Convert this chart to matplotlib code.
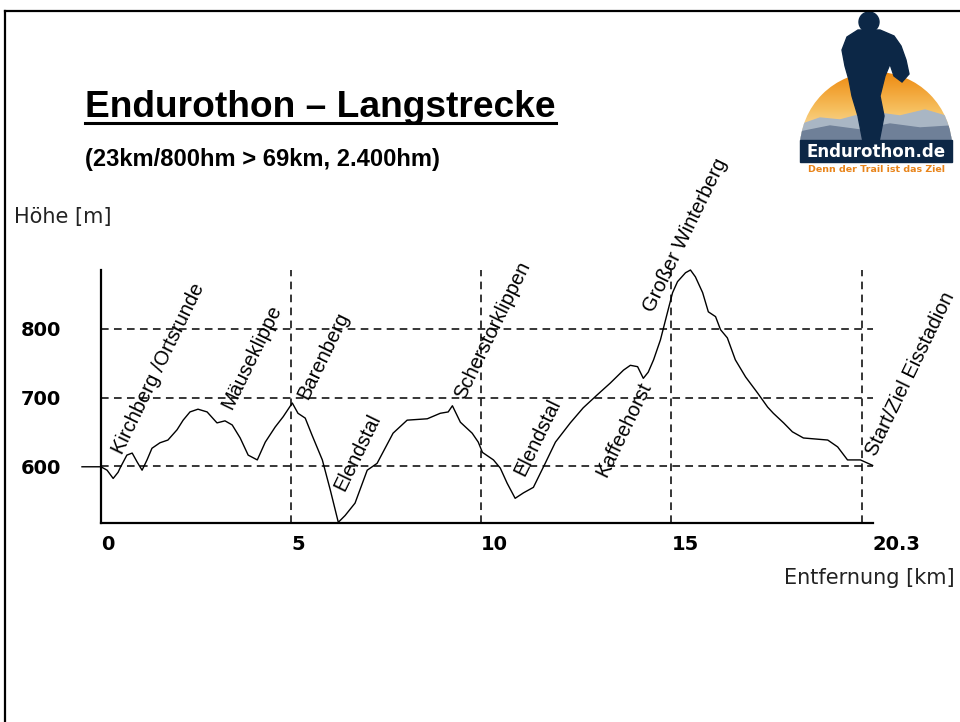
import numpy as np
import matplotlib.pyplot as plt
from matplotlib.colors import LinearSegmentedColormap
from matplotlib.patches import Circle, Polygon, Rectangle
from matplotlib.lines import Line2D

plt.rcParams['font.family'] = ['Liberation Sans', 'DejaVu Sans']

# Höhenprofil (Entfernung in km, Höhe in m)
dist = [-0.5, 0.0, 0.16, 0.32, 0.45, 0.50, 0.68, 0.82, 0.95, 1.08, 1.21, 1.34, 1.55, 1.76,
        2.00, 2.16, 2.34, 2.55, 2.79, 3.05, 3.26, 3.45, 3.66, 3.87, 4.11, 4.32, 4.58,
        4.79, 5.03, 5.18, 5.37, 5.55, 5.82, 6.03, 6.24, 6.42, 6.68, 7.00, 7.26, 7.68,
        8.05, 8.58, 8.92, 9.13, 9.24, 9.45, 9.76, 9.92, 10.03, 10.32, 10.50, 10.68,
        10.89, 11.11, 11.37, 11.68, 11.95, 12.34, 12.68, 13.05, 13.39, 13.74, 13.92,
        14.11, 14.26, 14.39, 14.53, 14.71, 14.89, 15.03, 15.16, 15.37, 15.50, 15.63,
        15.82, 15.97, 16.16, 16.29, 16.47, 16.68, 16.95, 17.26, 17.53, 17.68, 17.95,
        18.18, 18.47, 19.11, 19.37, 19.63, 19.97, 20.29]
elev = [599, 599, 594, 582, 591, 597, 616, 619, 606, 594, 609, 626, 634, 638,
        653, 667, 679, 683, 679, 663, 666, 660, 641, 616, 609, 635, 657,
        672, 692, 677, 670, 645, 609, 565, 518, 528, 546, 594, 604, 648,
        667, 669, 677, 679, 688, 664, 648, 635, 620, 609, 597, 575,
        553, 561, 569, 604, 635, 663, 685, 704, 721, 740, 747,
        745, 728, 737, 755, 784, 823, 853, 869, 882, 886, 876,
        853, 825, 818, 799, 787, 755, 730, 707, 686, 677, 663,
        650, 641, 638, 628, 609, 609, 601]

# Orte entlang der Strecke
places = ["Kirchberg /Ortsrunde", "Mäuseklippe", "Barenberg", "Elendstal",
          "Scherstorklippen", "Elendstal", "Kaffeehorst", "Großer Winterberg",
          "Start/Ziel Eisstadion"]
place_km = [0.57, 3.45, 5.45, 6.39, 9.55, 11.12, 13.28, 14.52, 20.39]
place_m = [616, 682, 696, 562, 696, 584, 582, 823, 613]

x_ticks = [0, 5, 10, 15, 20.3]
x_tick_labels = ["0", "5", "10", "15", "20.3"]
x_grid = [5, 10, 15, 20]
y_ticks = [600, 700, 800]

W, H = 960, 722
fig = plt.figure(figsize=(W / 100, H / 100), dpi=100)


def fx(px):
    return px / W


def fy(py):
    return 1 - py / H


# Rahmen links und oben
fig.add_artist(Line2D([fx(5), fx(5)], [fy(11), 0], color='black', lw=1.6))
fig.add_artist(Line2D([fx(5), 1], [fy(11), fy(11)], color='black', lw=1.6))

# Titel
title = fig.text(fx(85), fy(117), "Endurothon – Langstrecke", fontsize=26.7,
                 fontweight='bold', ha='left', va='baseline')
fig.text(fx(85), fy(166), "(23km/800hm > 69km, 2.400hm)", fontsize=17.1,
         fontweight='bold', ha='left', va='baseline')
fig.canvas.draw()
bb = title.get_window_extent()
fig.add_artist(Line2D([bb.x0 / W, bb.x1 / W], [fy(123), fy(123)], color='black', lw=2.2))

# Diagramm
ax = fig.add_axes([fx(101), fy(523), fx(873) - fx(101), fy(270) - fy(523)])
ax.set_xlim(0, 20.3)
ax.set_ylim(517, 886)
for s in ['top', 'right']:
    ax.spines[s].set_visible(False)
for s in ['left', 'bottom']:
    ax.spines[s].set_linewidth(1.6)

dash = (0, (5, 3.5))
for y in y_ticks:
    ax.axhline(y, color='black', lw=1.1, linestyle=dash, zorder=1)
ax.vlines(x_grid, 517, 886, color='black', lw=1.1, linestyles=[dash], zorder=1)

ax.plot(dist, elev, color='black', lw=1.0, clip_on=False, zorder=3)

ax.set_xticks(x_ticks)
ax.set_xticklabels(x_tick_labels, ha='left', fontsize=14, fontweight='bold',
                   family='DejaVu Sans')
ax.set_yticks(y_ticks)
ax.set_yticklabels([str(v) for v in y_ticks], fontsize=14, fontweight='bold',
                   family='DejaVu Sans')
ax.tick_params(axis='x', length=0, pad=9)
ax.tick_params(axis='y', length=0, pad=29)

for name, km, m in zip(places, place_km, place_m):
    ax.text(km, m, name, rotation=64, rotation_mode='anchor', ha='left',
            va='baseline', fontsize=14.5, clip_on=False, zorder=4)

fig.text(fx(14), fy(217), "Höhe [m]", fontsize=15, color='#222222',
         family='DejaVu Sans', ha='left', va='center')
fig.text(fx(955), fy(578), "Entfernung [km]", fontsize=15, color='#222222',
         family='DejaVu Sans', ha='right', va='center')

# Logo oben rechts
lx0, lx1, ly0, ly1 = 795, 958, 8, 180
lax = fig.add_axes([fx(lx0), fy(ly1), fx(lx1) - fx(lx0), fy(ly0) - fy(ly1)])
lax.set_xlim(lx0, lx1)
lax.set_ylim(ly1, ly0)
lax.axis('off')

dome = Circle((876, 148), 76, transform=lax.transData)
grad = np.linspace(0, 1, 100).reshape(-1, 1)
sun = LinearSegmentedColormap.from_list('sun', ['#ee8a10', '#f6c060', '#fbeccc'])
img = lax.imshow(grad, extent=(800, 952, 148, 72), cmap=sun, aspect='auto', zorder=1)
img.set_clip_path(dome)

back = Polygon([(800, 125), (820, 118), (840, 120), (870, 112), (900, 116), (925, 110),
                (952, 118), (952, 148), (800, 148)], closed=True, color='#a9b6c4', zorder=2)
front = Polygon([(800, 132), (830, 126), (860, 130), (890, 124), (920, 128), (952, 126),
                 (952, 148), (800, 148)], closed=True, color='#6f8098', zorder=3)
back.set_clip_path(dome)
front.set_clip_path(dome)
lax.add_patch(back)
lax.add_patch(front)
lax.add_patch(Rectangle((800, 140), 152, 22, color='#0c2746', zorder=4))

rider = Polygon([(858, 30), (880, 30), (894, 36), (901, 46), (906, 60), (909, 74),
                 (902, 82), (894, 76), (890, 64), (885, 76), (880, 96), (884, 116),
                 (879, 142), (863, 142), (858, 116), (852, 96), (849, 80), (845, 66),
                 (842, 50), (847, 37)], closed=True, color='#0c2746', zorder=5)
lax.add_patch(rider)
lax.add_patch(Circle((869, 22), 10, color='#0c2746', zorder=5))

lax.text(876, 152, "Endurothon.de", color='white', fontsize=12, fontweight='bold',
         family='DejaVu Sans', ha='center', va='center', zorder=6)
lax.text(876, 169, "Denn der Trail ist das Ziel", color='#e8841a', fontsize=6.8,
         fontweight='bold', family='DejaVu Sans', ha='center', va='center', zorder=6)

fig.savefig('out.png', dpi=100)
